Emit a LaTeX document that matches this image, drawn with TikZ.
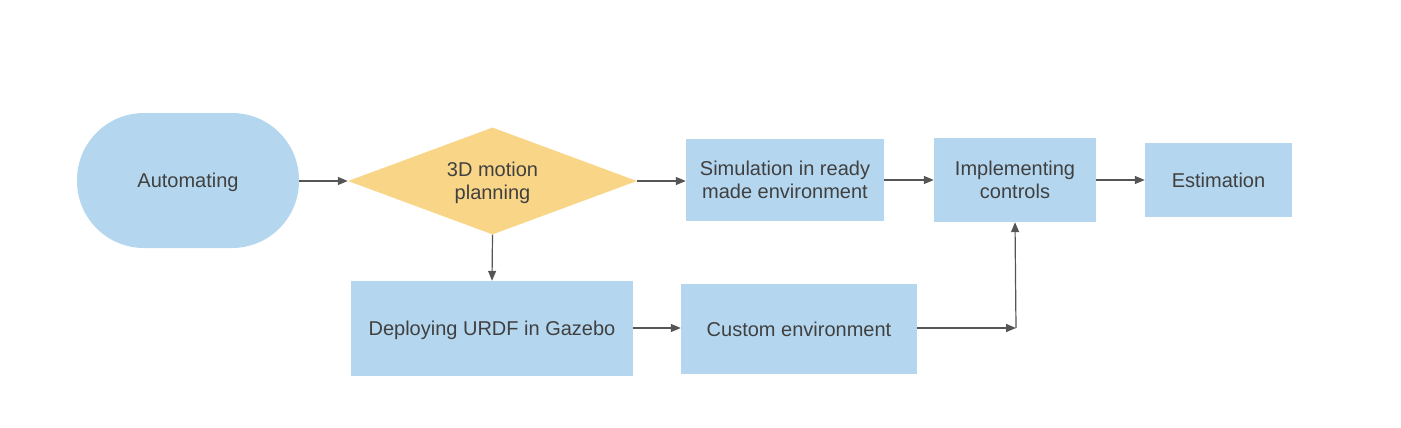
\documentclass[tikz,border=0pt]{standalone}
\usepackage{fontspec}
\setmainfont{Liberation Sans}
\usetikzlibrary{shapes.geometric,arrows.meta}
\definecolor{boxblue}{HTML}{B4D7EF}
\definecolor{diayel}{HTML}{F9D588}
\definecolor{txtgray}{HTML}{404040}
\definecolor{linegray}{HTML}{555555}
\begin{document}
\begin{tikzpicture}[x=1pt,y=-1pt,
  every node/.style={font=\fontsize{20}{23}\selectfont, text=txtgray, align=center, inner sep=0pt, text height=19pt, text depth=4.5pt},
  twoline/.style={text height=42pt, text depth=4.5pt},
  procbox/.style={rectangle, fill=boxblue},
  termbox/.style={rectangle, fill=boxblue, rounded corners=67pt},
  decbox/.style={diamond, fill=diayel, shape aspect=2.7},
  conn/.style={draw=linegray, line width=1.2pt, -{Triangle[length=10pt,width=8pt]}}
]
\useasboundingbox (0,0) rectangle (1401,428);
\node[termbox, minimum width=222pt, minimum height=135pt] (auto) at (188,180.5) {Automating};
\node[decbox, twoline, minimum width=289pt, minimum height=107pt] (plan) at (492.5,181) {3D motion\\planning};
\node[procbox, twoline, minimum width=198pt, minimum height=82pt] (sim) at (785,180) {Simulation in ready\\made environment};
\node[procbox, twoline, minimum width=162pt, minimum height=84pt] (impl) at (1015,180) {Implementing\\controls};
\node[procbox, minimum width=147pt, minimum height=74pt] (est) at (1218.5,180) {Estimation};
\node[procbox, minimum width=282pt, minimum height=95pt] (dep) at (492,328.5) {Deploying URDF in Gazebo};
\node[procbox, minimum width=236pt, minimum height=90pt] (cust) at (799,329) {Custom environment};
\coordinate (joint) at (1016,328);
\draw[conn] (auto.east |- 0,181) -- (plan.west);
\draw[conn] (plan.east) -- (plan.east -| sim.west);
\draw[conn] (sim.east) -- (impl.west);
\draw[conn] (impl.east) -- (est.west);
\draw[conn] (plan.south) -- (dep.north);
\draw[conn] (dep.east |- 0,328) -- (cust.west |- 0,328);
\draw[conn] (cust.east |- joint) -- (joint);
\draw[conn] (joint) -- (impl.south);
\end{tikzpicture}
\end{document}
